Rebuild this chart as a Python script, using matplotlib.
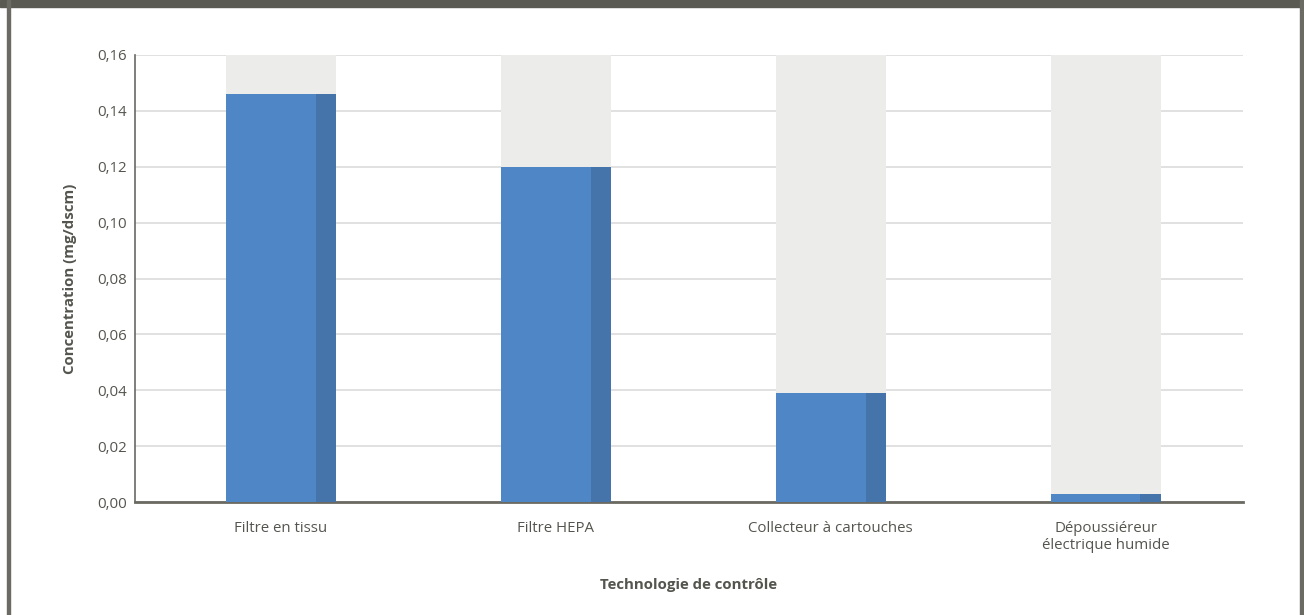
import matplotlib.pyplot as plt
from matplotlib.patches import Rectangle
from matplotlib.ticker import FuncFormatter

plt.rcParams['font.family'] = ['Open Sans', 'DejaVu Sans']

categories = ['Filtre en tissu', 'Filtre HEPA', 'Collecteur à cartouches',
              'Dépoussiéreur\nélectrique humide']
concentrations = [0.146, 0.120, 0.039, 0.003]
y_ticks = [0.00, 0.02, 0.04, 0.06, 0.08, 0.10, 0.12, 0.14, 0.16]

text_color = '#55554f'
front_color = '#4f87c6'
side_color = '#4474a9'
back_color = '#ececea'
frame_color = '#5a5a52'

fig = plt.figure(figsize=(13.04, 6.15), dpi=100)
ax = fig.add_axes([135 / 1304, 1 - 502 / 615, 1108 / 1304, 447 / 615])

width = 0.4
side = 0.073
for i, v in enumerate(concentrations):
    left = i - width / 2
    ax.bar(i, y_ticks[-1], width=width, color=back_color, zorder=1)
    ax.bar(left, v, width=width - side, align='edge', color=front_color, zorder=3)
    ax.bar(left + width - side, v, width=side, align='edge', color=side_color, zorder=3)

ax.set_xlim(-0.53, 3.5)
ax.set_ylim(0, 0.16)
ax.set_yticks(y_ticks)
ax.yaxis.set_major_formatter(FuncFormatter(lambda v, p: f'{v:.2f}'.replace('.', ',')))
ax.set_xticks(range(len(categories)))
ax.set_xticklabels(categories, linespacing=1.15)
ax.tick_params(axis='both', length=0, labelsize=10.8, colors=text_color)
ax.tick_params(axis='x', pad=14)
ax.tick_params(axis='y', pad=6)
ax.grid(axis='y', color='#dcdcdc', linewidth=1.2, zorder=0)
ax.set_axisbelow(True)

for s in ['top', 'right']:
    ax.spines[s].set_visible(False)
ax.spines['left'].set_color('#6a6a62')
ax.spines['left'].set_linewidth(1.2)
ax.spines['bottom'].set_color('#6a6a62')
ax.spines['bottom'].set_linewidth(2)

ax.set_ylabel('Concentration (mg/dscm)', fontsize=10.8, fontweight='bold',
              color=text_color, labelpad=14)
fig.text(689 / 1304, 1 - 585 / 615, 'Technologie de contrôle', ha='center',
         va='center', fontsize=10.8, fontweight='bold', color=text_color)

# outer frame: thick top band and thin side rules
fig.add_artist(Rectangle((0, 1 - 7 / 615), 1, 7 / 615, transform=fig.transFigure,
                         color=frame_color, zorder=10))
fig.add_artist(Rectangle((7 / 1304, 0), 3 / 1304, 1, transform=fig.transFigure,
                         color='#6b6b63', zorder=10))
fig.add_artist(Rectangle((1300 / 1304, 0), 3 / 1304, 1, transform=fig.transFigure,
                         color='#6b6b63', zorder=10))

fig.savefig('out.png', dpi=100)
